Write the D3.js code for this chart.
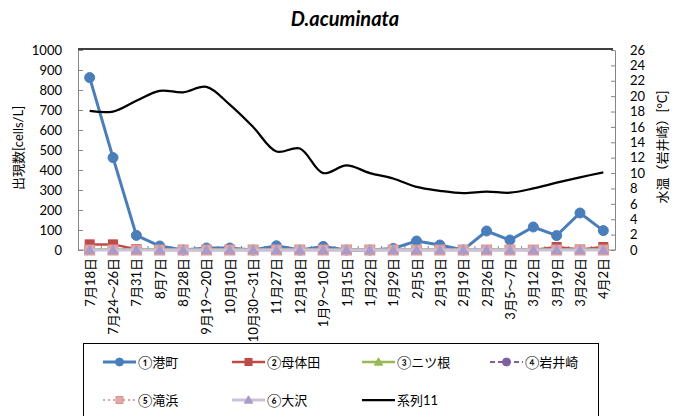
<!DOCTYPE html>
<html>
<head>
<meta charset="utf-8">
<script src="https://cdn.jsdelivr.net/npm/d3@7"></script>
<style>
  body { margin: 0; background: #fff; }
  text { font-family: Lato, "Noto Sans CJK JP", sans-serif; fill: #000; }
</style>
</head>
<body>
<div id="chart"></div>
<script>
        // Categories (sampling dates)
        var dates = ["7月18日", "7月24～26日", "7月31日", "8月7日", "8月28日", "9月19～20日",
            "10月10日", "10月30～31日", "11月27日", "12月18日", "1月9～10日", "1月15日",
            "1月22日", "1月29日", "2月5日", "2月13日", "2月19日", "2月26日", "3月5～7日",
            "3月12日", "3月19日", "3月26日", "4月2日"];

        // Cell counts per station [cells/L]
        var minatomachi = [862, 462, 73, 20, 0, 10, 10, 0, 21, 0, 18, 0, 0, 8, 45, 25, 0, 95, 50, 115, 72, 185, 97];
        var motaida = [28, 28, 4, 0, 0, 0, 0, 0, 0, 0, 0, 0, 0, 0, 0, 0, 0, 0, 0, 0, 15, 2, 15];
        var futatsune = [2, 2, 2, 2, 2, 2, 2, 2, 2, 2, 2, 2, 2, 2, 2, 2, 2, 2, 2, 2, 2, 2, 2];
        var iwaisaki = [1, 1, 1, 1, 1, 1, 1, 1, 1, 1, 1, 1, 1, 1, 1, 1, 1, 1, 1, 1, 1, 1, 1];
        var takihama = [0, 0, 0, 0, 0, 0, 0, 0, 0, 0, 0, 0, 0, 0, 0, 0, 0, 0, 0, 0, 0, 0, 0];
        var osawa = [0, 0, 0, 0, 0, 0, 0, 0, 0, 0, 0, 0, 0, 0, 0, 0, 0, 0, 0, 0, 0, 0, 0];

        // Water temperature at Iwaisaki [°C] (系列11, right axis)
        var waterTemp = [18.1, 18.0, 19.4, 20.7, 20.5, 21.2, 18.9, 16.0, 12.8, 13.2, 10.0, 11.0,
            10.0, 9.3, 8.2, 7.7, 7.4, 7.6, 7.45, 8.0, 8.75, 9.45, 10.1];

        var countTicks = d3.range(0, 1001, 100);
        var tempTicks = d3.range(0, 27, 2);

        var width = 687, height = 416;
        var plotLeft = 78, plotRight = 615, plotTop = 50, plotBottom = 250;

        var svg = d3.select("#chart").append("svg")
            .attr("width", width)
            .attr("height", height);

        // Scales
        var x = d3.scaleBand().domain(dates).range([plotLeft, plotRight]);
        var cx = d => x(d) + x.bandwidth() / 2;
        var y = d3.scaleLinear().domain([0, 1000]).range([plotBottom, plotTop]);
        var y2 = d3.scaleLinear().domain([0, 26]).range([plotBottom, plotTop]);

        // Title
        svg.append("text")
            .attr("x", 345).attr("y", 26)
            .attr("text-anchor", "middle")
            .style("font-size", "20px")
            .style("font-weight", "bold")
            .style("font-style", "italic")
            .text("D.acuminata");

        // Top border of plot area
        svg.append("line")
            .attr("x1", plotLeft).attr("x2", plotRight - 2)
            .attr("y1", plotTop - 1).attr("y2", plotTop - 1)
            .attr("stroke", "#000").attr("stroke-width", 1.5);

        // Left axis
        var gl = svg.append("g")
            .attr("transform", `translate(${plotLeft},0)`)
            .call(d3.axisLeft(y).tickValues(countTicks).tickFormat(d3.format("d"))
                .tickSizeInner(-5).tickSizeOuter(0).tickPadding(16));
        // Right axis
        var gr = svg.append("g")
            .attr("transform", `translate(${plotRight},0)`)
            .call(d3.axisRight(y2).tickValues(tempTicks).tickFormat(d3.format("d"))
                .tickSizeInner(-4).tickSizeOuter(0).tickPadding(15));

        [gl, gr].forEach(g => {
            g.selectAll("path, line").attr("stroke", "#868686");
            g.selectAll("text").style("font-size", "13px").style("font-family", "Lato, sans-serif");
        });

        // Bottom category axis
        var gx = svg.append("g");
        gx.append("line")
            .attr("x1", plotLeft).attr("x2", plotRight)
            .attr("y1", plotBottom).attr("y2", plotBottom)
            .attr("stroke", "#868686");
        gx.selectAll(".tk")
            .data(dates.slice(1))
            .enter().append("line")
            .attr("x1", d => x(d)).attr("x2", d => x(d))
            .attr("y1", plotBottom).attr("y2", plotBottom - 4)
            .attr("stroke", "#868686");
        gx.selectAll(".lbl")
            .data(dates)
            .enter().append("text")
            .attr("transform", d => `translate(${cx(d) + 5},258) rotate(-90)`)
            .attr("text-anchor", "end")
            .style("font-size", "13px")
            .text(d => d);

        // Axis titles
        svg.append("text")
            .attr("transform", "translate(23,148) rotate(-90)")
            .attr("text-anchor", "middle")
            .style("font-size", "13px")
            .text("出現数[cells/L]");
        svg.append("text")
            .attr("transform", "translate(667,147) rotate(-90)")
            .attr("text-anchor", "middle")
            .style("font-size", "13px")
            .text("水温（岩井崎）[°C]");

        // Series definitions
        var series = [
            { name: "①港町", values: minatomachi, color: "#4a7ebb", width: 3, dash: null, marker: "circle", size: 5, fill: "#4a7ebb", stroke: "#4a7ebb" },
            { name: "②母体田", values: motaida, color: "#be4b48", width: 2.5, dash: null, marker: "square", size: 9, fill: "#be4b48", stroke: "#be4b48" },
            { name: "③ニツ根", values: futatsune, color: "#98b954", width: 2.5, dash: null, marker: "triangle", size: 7, fill: "#98b954", stroke: "#98b954" },
            { name: "④岩井崎", values: iwaisaki, color: "#7d60a0", width: 2, dash: "5,3", marker: "circle", size: 4, fill: "#7d60a0", stroke: "#7d60a0" },
            { name: "⑤滝浜", values: takihama, color: "#e0a2a0", width: 2, dash: "2,3", marker: "square", size: 10, fill: "#e0a8a7", stroke: "#d99694" },
            { name: "⑥大沢", values: osawa, color: "#ccc1da", width: 3, dash: null, marker: "triangle", size: 8, fill: "#a99bc9", stroke: "#a99bc9" }
        ];

        function drawMarker(g, s, px, py) {
            if (s.marker === "circle") {
                g.append("circle").attr("cx", px).attr("cy", py).attr("r", s.size)
                    .attr("fill", s.fill).attr("stroke", s.stroke);
            } else if (s.marker === "square") {
                g.append("rect").attr("x", px - s.size / 2).attr("y", py - s.size / 2)
                    .attr("width", s.size).attr("height", s.size)
                    .attr("fill", s.fill).attr("stroke", s.stroke);
            } else {
                var h = s.size;
                g.append("path")
                    .attr("d", `M${px},${py - h * 0.6}L${px + h * 0.6},${py + h * 0.45}L${px - h * 0.6},${py + h * 0.45}Z`)
                    .attr("fill", s.fill).attr("stroke", s.stroke);
            }
        }

        var line = d3.line().x((d, i) => cx(dates[i])).y(d => y(d));

        series.forEach(s => {
            var g = svg.append("g");
            g.append("path")
                .attr("d", line(s.values))
                .attr("fill", "none")
                .attr("stroke", s.color)
                .attr("stroke-width", s.width)
                .attr("stroke-dasharray", s.dash);
            s.values.forEach((v, i) => drawMarker(g, s, cx(dates[i]), y(v)));
        });

        // Water temperature (smoothed, right axis)
        var tempLine = d3.line()
            .x((d, i) => cx(dates[i]))
            .y(d => y2(d))
            .curve(d3.curveCatmullRom.alpha(0.5));
        svg.append("path")
            .attr("d", tempLine(waterTemp))
            .attr("fill", "none")
            .attr("stroke", "#000")
            .attr("stroke-width", 2.25);

        // Legend
        var lg = svg.append("g");
        lg.append("rect")
            .attr("x", 83.5).attr("y", 343.5)
            .attr("width", 515).attr("height", 90)
            .attr("fill", "none").attr("stroke", "#000");

        var legendItems = series.concat([{ name: "系列11", color: "#000", width: 2.25, dash: null, marker: null }]);
        var colX = [103, 232, 362, 490];
        var rowY = [362, 400];
        legendItems.forEach((s, i) => {
            var lx = colX[i % 4], ly = rowY[Math.floor(i / 4)];
            var g = lg.append("g");
            g.append("line")
                .attr("x1", lx).attr("x2", lx + 33)
                .attr("y1", ly).attr("y2", ly)
                .attr("stroke", s.color)
                .attr("stroke-width", s.width)
                .attr("stroke-dasharray", s.dash);
            if (s.marker) drawMarker(g, Object.assign({}, s, { size: s.marker === "circle" ? 4 : 7 }), lx + 16.5, ly);
            g.append("text")
                .attr("x", lx + 35).attr("y", ly + 5)
                .style("font-size", "13px")
                .text(s.name);
        });
</script>
</body>
</html>
